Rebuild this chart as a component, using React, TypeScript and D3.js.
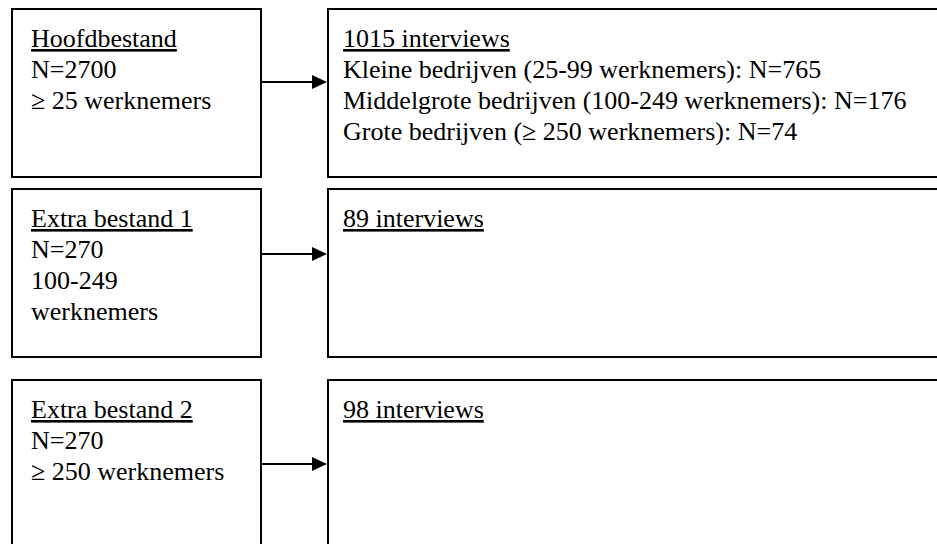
import { useEffect, useRef } from "react";
import * as d3 from "d3";

// source files (left column)
const sourceTitles = ["Hoofdbestand", "Extra bestand 1", "Extra bestand 2"];
const sourceN = ["N=2700", "N=270", "N=270"];
const sourceScope = [["≥ 25 werknemers"], ["100-249", "werknemers"], ["≥ 250 werknemers"]];

// results (right column)
const interviewCounts = [1015, 89, 98];
const breakdownLabels = [
  "Kleine bedrijven (25-99 werknemers)",
  "Middelgrote bedrijven (100-249 werknemers)",
  "Grote bedrijven (≥ 250 werknemers)",
];
const breakdownN = [765, 176, 74];

const W = 937;
const H = 544;
const FONT = "'Liberation Serif', 'Times New Roman', serif";
const fontSize = 26;
const lineH = 31;

const buildChart = (ref: SVGSVGElement) => {
  const svg = d3.select(ref);
  svg.selectAll("*").remove();

  const rows = d3.range(sourceTitles.length);
  // box tops per row (row 3 sits a bit lower in the document)
  const top = d3.scaleOrdinal<number, number>().domain(rows).range([9, 189, 380]);
  const boxH = 168;
  const arrowOffset = d3.scaleOrdinal<number, number>().domain(rows).range([73, 65, 84]);
  const x = d3.scaleOrdinal<string, number>().domain(["left", "right"]).range([12, 328]);
  const leftW = 249;
  const rightW = 640;
  const headL = 15;
  const headH = 7;

  const g = svg.selectAll("g.row").data(rows).enter().append("g").attr("class", "row");

  g.each(function (i) {
    const el = d3.select(this);
    const t = top(i);
    const ay = t + arrowOffset(i);

    el.append("rect")
      .attr("x", x("left"))
      .attr("y", t)
      .attr("width", leftW)
      .attr("height", boxH)
      .attr("fill", "#fff")
      .attr("stroke", "#000")
      .attr("stroke-width", 2);

    el.append("rect")
      .attr("x", x("right"))
      .attr("y", t)
      .attr("width", rightW)
      .attr("height", boxH)
      .attr("fill", "#fff")
      .attr("stroke", "#000")
      .attr("stroke-width", 2);

    el.append("line")
      .attr("x1", x("left") + leftW)
      .attr("x2", x("right") - headL)
      .attr("y1", ay)
      .attr("y2", ay)
      .attr("stroke", "#000")
      .attr("stroke-width", 2);

    const tip = x("right") - 1;
    el.append("path")
      .attr("d", d3.line()([[tip - headL, ay - headH], [tip, ay], [tip - headL, ay + headH]]) + "Z")
      .attr("fill", "#000");

    const leftLines = [sourceN[i], ...sourceScope[i]];
    const lt = el
      .append("text")
      .attr("font-family", FONT)
      .attr("font-size", fontSize)
      .attr("fill", "#000");
    lt.append("tspan")
      .attr("x", x("left") + 19)
      .attr("y", t + 38)
      .style("text-decoration", "underline")
      .text(sourceTitles[i]);
    leftLines.forEach((s, k) => {
      lt.append("tspan")
        .attr("x", x("left") + 19)
        .attr("y", t + 38 + (k + 1) * lineH)
        .text(s);
    });

    const rightLines = i === 0 ? breakdownLabels.map((l, k) => `${l}: N=${breakdownN[k]}`) : [];
    const rt = el
      .append("text")
      .attr("font-family", FONT)
      .attr("font-size", fontSize)
      .attr("fill", "#000");
    rt.append("tspan")
      .attr("x", x("right") + 15)
      .attr("y", t + 38)
      .style("text-decoration", "underline")
      .text(`${interviewCounts[i]} interviews`);
    rightLines.forEach((s, k) => {
      rt.append("tspan")
        .attr("x", x("right") + 15)
        .attr("y", t + 38 + (k + 1) * lineH)
        .text(s);
    });
  });
};

export default function App() {
  const ref = useRef<SVGSVGElement>(null);
  useEffect(() => {
    document.body.style.margin = "0";
    if (ref.current) buildChart(ref.current);
  }, []);
  return (
    <svg ref={ref} width={W} height={H} style={{ display: "block", background: "#fff" }}></svg>
  );
}
